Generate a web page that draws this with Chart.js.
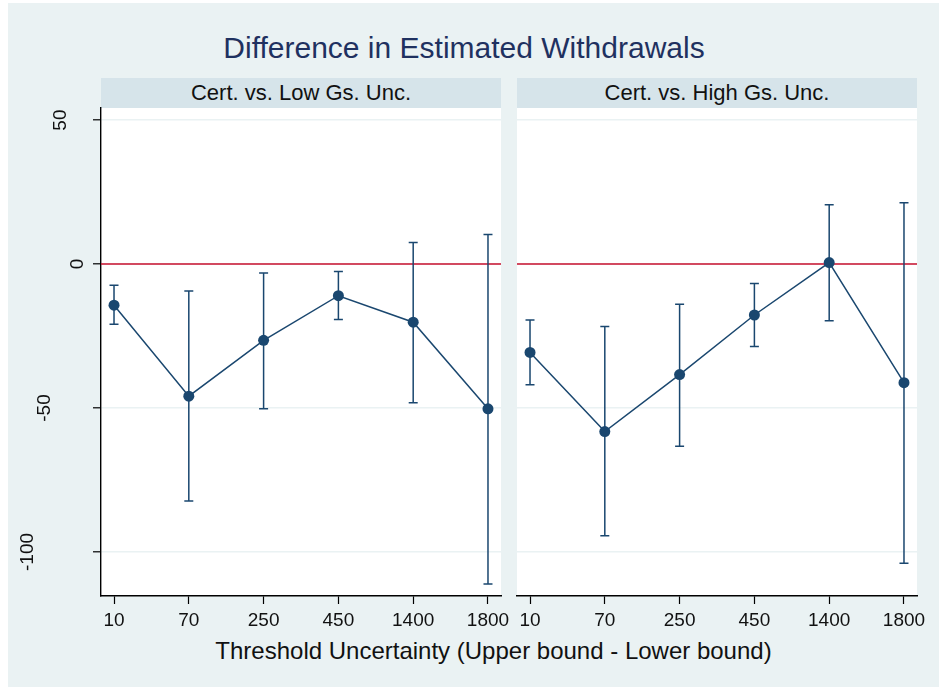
<!DOCTYPE html>
<html>
<head>
<meta charset="utf-8">
<script src="https://cdn.jsdelivr.net/npm/chart.js@4.4.1/dist/chart.umd.min.js"></script>
<style>
  html, body { margin: 0; padding: 0; background: #ffffff; }
  #wrap { position: relative; width: 939px; height: 687px; overflow: hidden; font-family: "Liberation Sans", Arial, sans-serif; }
  #bg { position: absolute; left: 8px; top: 3px; width: 931px; height: 684px; background: #EAF2F3; }
  #title { position: absolute; left: 8px; width: 912px; top: 28px; text-align: center; font-size: 30px; color: #1f3160; line-height: 40px; }
  .hdr { position: absolute; top: 78px; width: 400px; height: 30px; background: #D6E4EA; text-align: center; font-size: 22px; line-height: 30px; color: #111; }
  #xtitle { position: absolute; left: 0; width: 987px; top: 636px; text-align: center; font-size: 24px; color: #111; line-height: 30px; }
  canvas { position: absolute; }
</style>
</head>
<body>
<div id="wrap">
  <div id="bg"></div>
  <div id="title">Difference in Estimated Withdrawals</div>
  <div class="hdr" id="h1" style="left:101px;"></div>
  <div class="hdr" id="h2" style="left:517px;"></div>
  <div id="xtitle"></div>
  <canvas id="c1" style="left:0px; top:100px;" width="540" height="548"></canvas>
  <canvas id="c2" style="left:510px; top:100px;" width="429" height="548"></canvas>
</div>
<script>
// ---- data ----
const categories = ['10', '70', '250', '450', '1400', '1800'];
const panelTitles = ['Cert. vs. Low Gs. Unc.', 'Cert. vs. High Gs. Unc.'];
const chartTitle = 'Difference in Estimated Withdrawals';
const xAxisTitle = 'Threshold Uncertainty (Upper bound - Lower bound)';

const lowEst   = [-14.3, -45.9, -26.5, -11.0, -20.2, -50.3];
const lowUpper = [ -7.4,  -9.4,  -3.1,  -2.6,   7.5,  10.3];
const lowLower = [-20.9, -82.3, -50.3, -19.3, -48.2, -111.1];

const highEst   = [-30.7, -58.2, -38.4, -17.7,   0.5, -41.2];
const highUpper = [-19.4, -21.7, -14.0,  -6.8,  20.6,  21.3];
const highLower = [-41.9, -94.4, -63.3, -28.6, -19.7, -103.9];

const yTicks = [-100, -50, 0, 50];
const refLine = 0;

document.getElementById('title').textContent = chartTitle;
document.getElementById('h1').textContent = panelTitles[0];
document.getElementById('h2').textContent = panelTitles[1];
document.getElementById('xtitle').textContent = xAxisTitle;

const NAVY = '#1A476F';
const FONT = '"Liberation Sans", Arial, sans-serif';

const errorBarPlugin = {
  id: 'errbars',
  beforeDraw(chart) {
    const { ctx, chartArea } = chart;
    ctx.save();
    ctx.fillStyle = '#ffffff';
    ctx.fillRect(chartArea.left, chartArea.top, chartArea.right - chartArea.left, chartArea.bottom - chartArea.top);
    ctx.restore();
  },
  beforeDatasetsDraw(chart) {
    const { ctx, chartArea, scales } = chart;
    const y0 = scales.y.getPixelForValue(refLine);
    ctx.save();
    ctx.strokeStyle = '#C8102E';
    ctx.lineWidth = 1.6;
    ctx.beginPath();
    ctx.moveTo(chartArea.left, y0);
    ctx.lineTo(chartArea.right, y0);
    ctx.stroke();
    const eb = chart.options.plugins.errbars;
    ctx.strokeStyle = NAVY;
    ctx.lineWidth = 1.5;
    eb.upper.forEach((u, i) => {
      const x = scales.x.getPixelForValue(i);
      const yu = scales.y.getPixelForValue(u);
      const yl = scales.y.getPixelForValue(eb.lower[i]);
      ctx.beginPath();
      ctx.moveTo(x, yu); ctx.lineTo(x, yl);
      ctx.moveTo(x - 4.5, yu); ctx.lineTo(x + 4.5, yu);
      ctx.moveTo(x - 4.5, yl); ctx.lineTo(x + 4.5, yl);
      ctx.stroke();
    });
    ctx.restore();
  },
  afterDraw(chart) {
    const eb = chart.options.plugins.errbars;
    if (!eb.yLabels) return;
    const { ctx, chartArea, scales } = chart;
    ctx.save();
    ctx.fillStyle = '#111';
    ctx.font = '19px ' + FONT;
    ctx.textAlign = 'center';
    ctx.textBaseline = 'middle';
    yTicks.forEach(v => {
      const lbl = String(v);
      const y = scales.y.getPixelForValue(v);
      const x = chartArea.left - 7 - 16.5 * lbl.length;
      ctx.save();
      ctx.translate(x, y);
      ctx.rotate(-Math.PI / 2);
      ctx.fillText(lbl, 0, 0);
      ctx.restore();
    });
    ctx.restore();
  }
};

function makeChart(id, est, upper, lower, isLeft) {
  const yAxisWidth = isLeft ? 101 : 7;
  return new Chart(document.getElementById(id), {
    type: 'line',
    data: {
      datasets: [{
        data: est.map((v, i) => ({ x: i, y: v })),
        borderColor: NAVY,
        backgroundColor: NAVY,
        borderWidth: 1.5,
        pointRadius: 5.5,
        pointBackgroundColor: NAVY,
        pointBorderColor: NAVY,
        pointBorderWidth: 0,
        tension: 0,
        clip: false
      }]
    },
    options: {
      responsive: false,
      animation: false,
      devicePixelRatio: 1,
      layout: { padding: { top: 8, right: isLeft ? 39 : 22, left: 0, bottom: 0 } },
      plugins: {
        legend: { display: false },
        tooltip: { enabled: false },
        errbars: { upper: upper, lower: lower, yLabels: isLeft }
      },
      scales: {
        x: {
          type: 'linear',
          min: -0.174,
          max: 5.174,
          afterBuildTicks: (s) => { s.ticks = categories.map((c, i) => ({ value: i })); },
          afterFit: (s) => { s.height = 52; },
          ticks: {
            callback: (v) => categories[v],
            font: { family: FONT, size: 19 },
            color: '#111',
            padding: 5,
            maxRotation: 0,
            autoSkip: false
          },
          grid: { drawOnChartArea: false, drawTicks: true, tickLength: 8, tickColor: '#000', tickWidth: 1.2 },
          border: { display: true, color: '#000', width: 1.4 }
        },
        y: {
          type: 'linear',
          min: -115.3,
          max: 54.2,
          afterBuildTicks: (s) => { s.ticks = yTicks.map(v => ({ value: v })); },
          afterFit: (s) => { s.width = yAxisWidth; },
          ticks: { display: false },
          grid: {
            color: '#EAF2F3',
            lineWidth: 1.6,
            drawTicks: isLeft,
            tickLength: 8,
            tickColor: '#000',
            tickWidth: 1.2
          },
          border: { display: isLeft, color: '#000', width: 1.4 }
        }
      }
    },
    plugins: [errorBarPlugin]
  });
}

makeChart('c1', lowEst, lowUpper, lowLower, true);
makeChart('c2', highEst, highUpper, highLower, false);
</script>
</body>
</html>
